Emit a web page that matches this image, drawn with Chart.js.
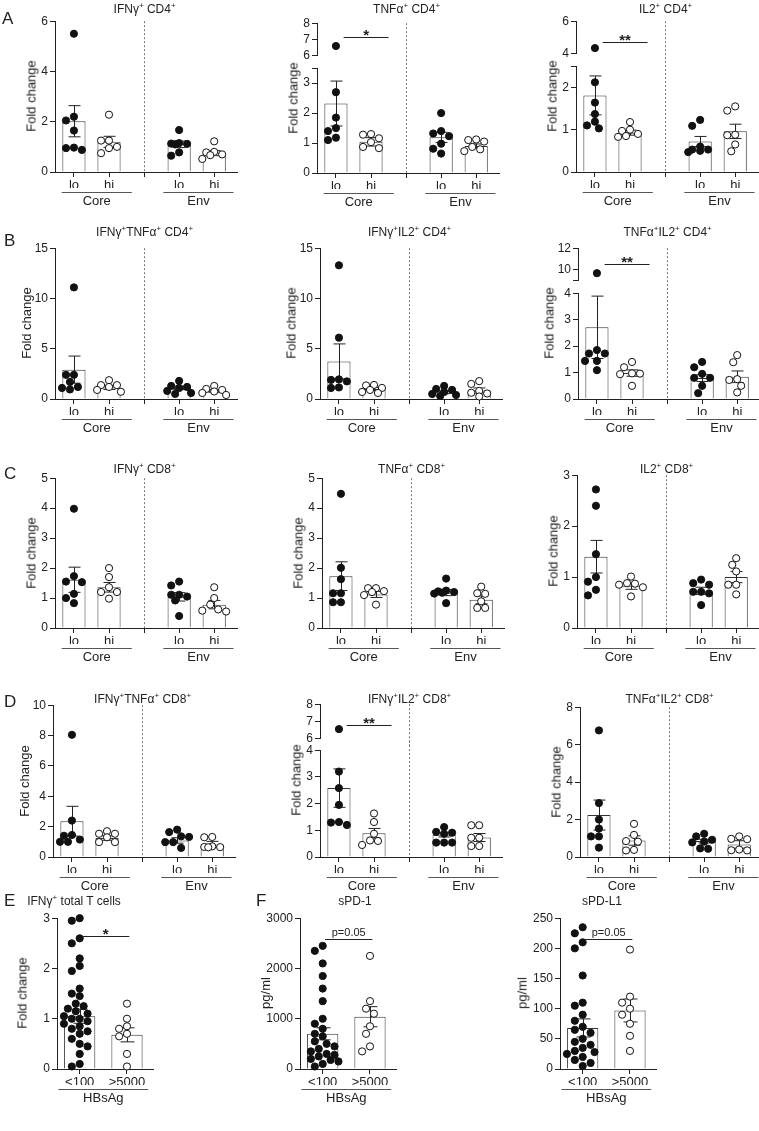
<!DOCTYPE html>
<html>
<head>
<meta charset="utf-8">
<title>Fold change panels</title>
<script src="https://cdn.jsdelivr.net/npm/chart.js@4.4.1/dist/chart.umd.min.js"></script>
<style>
  body { margin: 0; background: #fff; }
  #fig { position: relative; width: 759px; height: 1131px; overflow: hidden; font-family: "Liberation Sans", Arial, sans-serif; color: #222; }
  #fig canvas { position: absolute; }
  .txt { position: absolute; font-size: 12px; white-space: nowrap; transform: translate(-50%, -50%); line-height: 1; }
  .ylab { position: absolute; font-size: 13px; white-space: nowrap; transform: translate(-50%, -50%) rotate(-90deg); line-height: 1; }
  .letter { position: absolute; font-size: 17px; line-height: 1; }
  sup { font-size: 8px; vertical-align: 5px; line-height: 0; }
</style>
</head>
<body>
<div id="fig"></div>
<script>
// categories / tick labels
const cohort = ['lo', 'hi', '', 'lo', 'hi'];
const antigens = ['Core', 'Env'];
const hbsag = ['<100', '>5000'];

// each panel: points per group (Core lo, Core hi, Env lo, Env hi), bar means, SEM
const ifngCD4_pts = [[5.5, 2.2, 2.05, 1.65, 0.97, 0.95, 0.88], [2.28, 1.25, 1.25, 1.0, 0.95, 0.75], [1.67, 1.15, 1.13, 1.12, 1.1, 0.78, 0.65], [1.22, 0.8, 0.78, 0.7, 0.67, 0.52]];
const ifngCD4_mean = [2.02, 1.2, 1.1, 0.75];
const ifngCD4_sem = [0.62, 0.22, 0.13, 0.1];

const tnfCD4_pts = [[6.6, 2.7, 1.85, 1.5, 1.4, 1.18, 1.1], [1.3, 1.28, 1.16, 1.03, 0.87, 0.83], [2.0, 1.4, 1.32, 1.23, 0.98, 0.81, 0.65], [1.12, 1.1, 1.05, 0.87, 0.79, 0.73]];
const tnfCD4_mean = [2.32, 1.04, 1.19, 0.9];
const tnfCD4_sem = [0.75, 0.14, 0.17, 0.07];

const il2CD4_pts = [[4.35, 2.12, 1.64, 1.37, 1.19, 1.1, 1.03], [1.18, 1.0, 0.97, 0.9, 0.85, 0.83], [1.23, 1.09, 0.6, 0.53, 0.53, 0.5, 0.47], [1.55, 1.45, 0.88, 0.87, 0.65, 0.49]];
const il2CD4_mean = [1.81, 0.93, 0.72, 0.96];
const il2CD4_sem = [0.46, 0.06, 0.12, 0.17];

const ifngTnfCD4_pts = [[11.1, 2.4, 2.4, 1.7, 1.2, 1.1, 0.95], [1.87, 1.38, 1.38, 1.2, 0.9, 0.72], [1.8, 1.3, 1.2, 1.1, 0.8, 0.6, 0.5], [1.3, 1.0, 0.9, 0.75, 0.6, 0.4]];
const ifngTnfCD4_mean = [2.92, 1.15, 1.1, 0.8];
const ifngTnfCD4_sem = [1.35, 0.2, 0.17, 0.13];

const ifngIl2CD4_pts = [[13.3, 6.1, 1.95, 1.9, 1.75, 1.15, 1.1], [1.4, 1.35, 1.1, 0.9, 0.7, 0.6], [1.3, 1.0, 0.9, 0.7, 0.5, 0.4, 0.3], [1.78, 1.5, 0.8, 0.62, 0.55, 0.25]];
const ifngIl2CD4_mean = [3.74, 1.0, 0.65, 0.85];
const ifngIl2CD4_sem = [1.74, 0.15, 0.12, 0.25];

const tnfIl2CD4_pts = [[9.7, 1.85, 1.72, 1.72, 1.44, 1.44, 1.09], [1.4, 1.2, 0.97, 0.96, 0.94, 0.5], [1.4, 1.2, 0.95, 0.8, 0.8, 0.5, 0.22], [1.66, 1.39, 0.75, 0.72, 0.5, 0.25]];
const tnfIl2CD4_mean = [2.71, 0.98, 0.79, 0.84];
const tnfIl2CD4_sem = [1.18, 0.12, 0.13, 0.22];

const ifngCD8_pts = [[3.98, 1.73, 1.55, 1.53, 1.14, 1.0, 0.83], [2.0, 1.7, 1.36, 1.2, 1.2, 0.98], [1.55, 1.42, 1.11, 1.11, 1.05, 0.92, 0.4], [1.36, 1.0, 0.78, 0.62, 0.58, 0.55]];
const ifngCD8_mean = [1.61, 1.36, 1.04, 0.78];
const ifngCD8_sem = [0.42, 0.16, 0.14, 0.14];

const tnfCD8_pts = [[4.48, 2.01, 1.63, 1.16, 1.16, 0.86, 0.86], [1.33, 1.33, 1.23, 1.2, 1.1, 0.78], [1.65, 1.25, 1.22, 1.2, 1.18, 1.15, 0.83], [1.38, 1.16, 1.14, 0.89, 0.67, 0.67]];
const tnfCD8_mean = [1.73, 1.12, 1.18, 0.94];
const tnfCD8_sem = [0.48, 0.1, 0.1, 0.13];

const il2CD8_pts = [[2.72, 2.4, 1.45, 1.0, 0.91, 0.75, 0.64], [1.01, 0.88, 0.87, 0.85, 0.8, 0.62], [0.95, 0.88, 0.85, 0.71, 0.71, 0.68, 0.45], [1.37, 1.24, 1.11, 0.85, 0.85, 0.66]];
const il2CD8_mean = [1.4, 0.82, 0.73, 1.0];
const il2CD8_sem = [0.32, 0.06, 0.07, 0.11];

const ifngTnfCD8_pts = [[8.05, 2.4, 1.45, 1.4, 1.15, 1.0, 1.0], [1.7, 1.53, 1.53, 1.3, 0.98, 0.98], [1.8, 1.64, 1.36, 1.32, 0.98, 0.98, 0.6], [1.32, 1.3, 0.7, 0.66, 0.65, 0.64]];
const ifngTnfCD8_mean = [2.36, 1.25, 1.09, 0.83];
const ifngTnfCD8_sem = [0.98, 0.15, 0.18, 0.2];

const ifngIl2CD8_pts = [[6.56, 3.2, 2.58, 1.95, 1.31, 1.29, 1.2], [1.63, 1.31, 0.87, 0.62, 0.6, 0.45], [1.12, 0.94, 0.91, 0.87, 0.54, 0.54, 0.54], [1.19, 1.19, 0.72, 0.72, 0.41, 0.41]];
const ifngIl2CD8_mean = [2.58, 0.89, 0.83, 0.73];
const ifngIl2CD8_sem = [0.72, 0.18, 0.08, 0.15];

const tnfIl2CD8_pts = [[6.76, 2.88, 2.0, 1.52, 1.1, 1.1, 0.5], [1.77, 1.18, 0.85, 0.82, 0.38, 0.35], [1.24, 1.1, 0.92, 0.82, 0.78, 0.46, 0.44], [1.1, 0.97, 0.95, 0.4, 0.36, 0.35]];
const tnfIl2CD8_mean = [2.24, 0.88, 0.85, 0.67];
const tnfIl2CD8_sem = [0.8, 0.25, 0.1, 0.2];

// E / F: HBsAg <100 vs >5000
const totalT_pts = [[3.0, 2.95, 2.6, 2.5, 2.2, 2.05, 1.95, 1.6, 1.5, 1.45, 1.3, 1.25, 1.2, 1.15, 1.1, 1.05, 1.0, 1.0, 0.95, 0.9, 0.85, 0.8, 0.75, 0.7, 0.6, 0.5, 0.45, 0.3, 0.1, 0.05], [1.3, 1.0, 0.85, 0.8, 0.7, 0.65, 0.3, 0.05]];
const totalT_mean = [1.05, 0.68];
const totalT_sem = [0.14, 0.14];

const spd1_pts = [[2450, 2350, 2100, 1850, 1600, 1350, 1000, 900, 800, 700, 650, 550, 500, 450, 400, 350, 300, 280, 250, 200, 180, 150, 100, 50], [2250, 1350, 1200, 1100, 850, 700, 450, 350]];
const spd1_mean = [700, 1040];
const spd1_sem = [120, 200];

const spdl1_pts = [[235, 225, 210, 200, 155, 110, 105, 90, 80, 70, 65, 60, 50, 45, 40, 35, 30, 28, 25, 20, 15, 10, 5], [198, 120, 110, 100, 90, 75, 55, 30]];
const spdl1_mean = [68, 97];
const spdl1_sem = [15, 19];

Chart.defaults.font.family = '"Liberation Sans", Arial, sans-serif';
Chart.defaults.color = '#222';

const fig = document.getElementById('fig');
const X4 = [0, 1, 3, 4];
const X2 = [0, 1];
const groups4 = [{ from: -0.35, to: 1.65, label: antigens[0] }, { from: 2.55, to: 4.55, label: antigens[1] }];
const groupsHB = [{ from: -0.45, to: 1.45, label: 'HBsAg' }];

const addText = (html, x, y, cls) => {
  const d = document.createElement('div');
  d.className = cls || 'txt';
  d.innerHTML = html;
  d.style.left = x + 'px';
  d.style.top = y + 'px';
  fig.appendChild(d);
};

// spread dots that would overlap (simple beeswarm, in pixels)
const swarm = (vals, pxU, slot, spread) => {
  const cands = [0];
  for (let s = 4; s <= spread; s += 4) cands.push(-s, s);
  const placed = [];
  const out = vals.map(() => 0);
  vals.map((v, i) => i).sort((a, b) => vals[b] - vals[a]).forEach(i => {
    const py = vals[i] * pxU;
    let pick = null, bestD = -1, bestC = 0;
    for (const c of cands) {
      let dmin = Infinity;
      placed.forEach(p => { dmin = Math.min(dmin, Math.hypot(p[0] - c, p[1] - py)); });
      if (dmin >= 7.6) { pick = c; break; }
      if (dmin > bestD) { bestD = dmin; bestC = c; }
    }
    if (pick === null) pick = bestC;
    placed.push([pick, py]);
    out[i] = pick / slot;
  });
  return out;
};

const panelPlugin = {
  id: 'panel',
  afterDatasetDraw(chart, args, o) {
    if (args.index !== 0 || !o.sems) return;
    const ctx = chart.ctx, xs = chart.scales.x, ys = chart.scales.y;
    ctx.save();
    ctx.strokeStyle = '#222';
    ctx.lineWidth = 1;
    o.means.forEach((m, i) => {
      const x = Math.round(xs.getPixelForValue(o.xpos[i])) + 0.5;
      const y1 = ys.getPixelForValue(m + o.sems[i]);
      const y0 = ys.getPixelForValue(m - o.sems[i]);
      ctx.beginPath();
      ctx.moveTo(x, y0); ctx.lineTo(x, y1);
      ctx.moveTo(x - o.cap, y1); ctx.lineTo(x + o.cap, y1);
      ctx.moveTo(x - o.cap, y0); ctx.lineTo(x + o.cap, y0);
      ctx.stroke();
    });
    ctx.restore();
  },
  afterDraw(chart, args, o) {
    const ctx = chart.ctx, xs = chart.scales.x, ys = chart.scales.y, area = chart.chartArea;
    ctx.save();
    if (o.divider) {
      const x = Math.round(xs.getPixelForValue(2)) + 0.5;
      const yA = o.divider === 'low' ? 0 : area.top;
      const yB = o.divider === 'high' ? chart.height : area.bottom;
      ctx.strokeStyle = '#777';
      ctx.setLineDash([2, 2]);
      ctx.beginPath(); ctx.moveTo(x, yA); ctx.lineTo(x, yB); ctx.stroke();
      ctx.setLineDash([]);
    }
    if (o.groups) {
      ctx.strokeStyle = '#555';
      ctx.fillStyle = '#222';
      ctx.font = '13px "Liberation Sans", Arial, sans-serif';
      ctx.textAlign = 'center';
      ctx.textBaseline = 'middle';
      o.groups.forEach(g => {
        const x0 = xs.getPixelForValue(g.from), x1 = xs.getPixelForValue(g.to);
        const y = Math.round(area.bottom) + 20.5;
        ctx.beginPath(); ctx.moveTo(x0, y); ctx.lineTo(x1, y); ctx.stroke();
        ctx.fillText(g.label, (x0 + x1) / 2, y + 9);
      });
    }
    if (o.sig) {
      const s = o.sig;
      const x0 = xs.getPixelForValue(s.from), x1 = xs.getPixelForValue(s.to);
      const y = Math.round(ys.getPixelForValue(s.y)) + 0.5;
      ctx.strokeStyle = '#222';
      ctx.beginPath(); ctx.moveTo(x0, y); ctx.lineTo(x1, y); ctx.stroke();
      ctx.fillStyle = '#222';
      ctx.textAlign = 'center';
      ctx.textBaseline = 'alphabetic';
      if (s.text.startsWith('p')) {
        ctx.font = '11px "Liberation Sans", Arial, sans-serif';
        ctx.fillText(s.text, (x0 + x1) / 2, y - 4);
      } else {
        ctx.font = 'bold 15px "Liberation Sans", Arial, sans-serif';
        ctx.fillText(s.text, (x0 + x1) / 2, y + 2);
      }
    }
    ctx.restore();
  }
};

const buildChart = (s) => {
  const padTop = 8, xh = s.showX ? 16 : 0, padBottom = s.showX ? 40 : 8, padRight = 4;
  const plotH = s.zeroPx - s.topPx;
  const w = Math.round(s.yw + (s.xmax - s.xmin) * s.slot + padRight);
  const h = Math.round(padTop + plotH + xh + padBottom);
  const cv = document.createElement('canvas');
  cv.width = w; cv.height = h;
  cv.style.left = (s.axisX - s.yw) + 'px';
  cv.style.top = (s.topPx - padTop) + 'px';
  fig.appendChild(cv);

  const datasets = [];
  if (s.bars) {
    datasets.push({
      type: 'bar', data: s.bars, backgroundColor: '#fff', borderColor: '#333', borderWidth: 1,
      barPercentage: 0.66, categoryPercentage: 1, order: 2
    });
  }
  s.dots.forEach((d, i) => {
    datasets.push({
      type: 'scatter', data: d, order: 1, clip: false,
      pointRadius: 3.6, pointBorderWidth: 1, pointBorderColor: '#111',
      pointBackgroundColor: s.filled[i] ? '#111' : '#fff'
    });
  });

  new Chart(cv, {
    type: s.bars ? 'bar' : 'scatter',
    data: { datasets },
    plugins: [panelPlugin],
    options: {
      responsive: false, animation: false, maintainAspectRatio: false,
      layout: { padding: { top: padTop, bottom: padBottom, left: 0, right: padRight } },
      plugins: { legend: { display: false }, tooltip: { enabled: false }, panel: s.panel },
      scales: {
        x: {
          type: 'linear', display: s.showX, min: s.xmin, max: s.xmax, offset: false,
          afterBuildTicks: sc => { sc.ticks = s.xticks.map(v => ({ value: v })); },
          afterFit: sc => { sc.height = xh; },
          grid: { drawOnChartArea: false, offset: false, tickLength: 5, color: '#222' },
          border: { color: '#222' },
          ticks: { callback: (v, i) => s.xlabels[i], font: { size: 13 }, color: '#222', padding: 1, maxRotation: 0, autoSkip: false }
        },
        y: {
          min: s.ymin, max: s.ymax,
          afterBuildTicks: sc => { sc.ticks = s.yticks.map(v => ({ value: v })); },
          afterFit: sc => { sc.width = s.yw; },
          grid: { drawOnChartArea: false, tickLength: 5, color: '#222' },
          border: { color: '#222' },
          ticks: { callback: v => (s.ylabels.includes(v) ? String(v) : ''), font: { size: 12 }, color: '#222', padding: 2, autoSkip: false }
        }
      }
    }
  });
};

const panels = [
  // row A
  { title: 'IFNγ<sup>+</sup> CD4<sup>+</sup>', titleY: 9, axisX: 55, pts: ifngCD4_pts, mean: ifngCD4_mean, sem: ifngCD4_sem,
    topPx: 20, zeroPx: 172, ymax: 6, yticks: [0, 2, 4, 6] },
  { title: 'TNFα<sup>+</sup> CD4<sup>+</sup>', titleY: 9, axisX: 317, pts: tnfCD4_pts, mean: tnfCD4_mean, sem: tnfCD4_sem,
    topPx: 67, zeroPx: 173, ymax: 3.5, yticks: [0, 1, 2, 3, 3.5], ylabels: [0, 1, 2, 3],
    brk: { min: 6, max: 8, ticks: [6, 7, 8], topPx: 22, botPx: 57 }, sig: { y: 7.15, text: '*' } },
  { title: 'IL2<sup>+</sup> CD4<sup>+</sup>', titleY: 9, axisX: 576, pts: il2CD4_pts, mean: il2CD4_mean, sem: il2CD4_sem,
    topPx: 65, zeroPx: 172, ymax: 2.5, yticks: [0, 1, 2, 2.5], ylabels: [0, 1, 2],
    brk: { min: 4, max: 6, ticks: [4, 6], topPx: 20, botPx: 55 }, sig: { y: 4.75, text: '**' } },
  // row B
  { title: 'IFNγ<sup>+</sup>TNFα<sup>+</sup> CD4<sup>+</sup>', titleY: 232, axisX: 55, pts: ifngTnfCD4_pts, mean: ifngTnfCD4_mean, sem: ifngTnfCD4_sem,
    topPx: 247, zeroPx: 399, ymax: 15, yticks: [0, 5, 10, 15], ylabOff: 29 },
  { title: 'IFNγ<sup>+</sup>IL2<sup>+</sup> CD4<sup>+</sup>', titleY: 232, axisX: 320, pts: ifngIl2CD4_pts, mean: ifngIl2CD4_mean, sem: ifngIl2CD4_sem,
    topPx: 247, zeroPx: 399, ymax: 15, yticks: [0, 5, 10, 15], ylabOff: 29 },
  { title: 'TNFα<sup>+</sup>IL2<sup>+</sup> CD4<sup>+</sup>', titleY: 232, axisX: 578, pts: tnfIl2CD4_pts, mean: tnfIl2CD4_mean, sem: tnfIl2CD4_sem,
    topPx: 292, zeroPx: 399, ymax: 4, yticks: [0, 1, 2, 3, 4],
    brk: { min: 9, max: 12, ticks: [9, 10, 12], labels: [10, 12], topPx: 247, botPx: 282 }, sig: { y: 10.5, text: '**' }, ylabOff: 29 },
  // row C
  { title: 'IFNγ<sup>+</sup> CD8<sup>+</sup>', titleY: 469, axisX: 55, pts: ifngCD8_pts, mean: ifngCD8_mean, sem: ifngCD8_sem,
    topPx: 477, zeroPx: 628, ymax: 5, yticks: [0, 1, 2, 3, 4, 5] },
  { title: 'TNFα<sup>+</sup> CD8<sup>+</sup>', titleY: 469, axisX: 322, pts: tnfCD8_pts, mean: tnfCD8_mean, sem: tnfCD8_sem,
    topPx: 477, zeroPx: 628, ymax: 5, yticks: [0, 1, 2, 3, 4, 5] },
  { title: 'IL2<sup>+</sup> CD8<sup>+</sup>', titleY: 469, axisX: 577, pts: il2CD8_pts, mean: il2CD8_mean, sem: il2CD8_sem,
    topPx: 474, zeroPx: 628, ymax: 3, yticks: [0, 1, 2, 3] },
  // row D
  { title: 'IFNγ<sup>+</sup>TNFα<sup>+</sup> CD8<sup>+</sup>', titleY: 699, axisX: 53, pts: ifngTnfCD8_pts, mean: ifngTnfCD8_mean, sem: ifngTnfCD8_sem,
    topPx: 704, zeroPx: 857, ymax: 10, yticks: [0, 2, 4, 6, 8, 10], ylabOff: 29 },
  { title: 'IFNγ<sup>+</sup>IL2<sup>+</sup> CD8<sup>+</sup>', titleY: 699, axisX: 320, pts: ifngIl2CD8_pts, mean: ifngIl2CD8_mean, sem: ifngIl2CD8_sem,
    topPx: 749, zeroPx: 857, ymax: 4, yticks: [0, 1, 2, 3, 4],
    brk: { min: 6, max: 8, ticks: [6, 7, 8], topPx: 703, botPx: 740 }, sig: { y: 6.8, text: '**' } },
  { title: 'TNFα<sup>+</sup>IL2<sup>+</sup> CD8<sup>+</sup>', titleY: 699, axisX: 580, pts: tnfIl2CD8_pts, mean: tnfIl2CD8_mean, sem: tnfIl2CD8_sem,
    topPx: 706, zeroPx: 857, ymax: 8, yticks: [0, 2, 4, 6, 8] }
];

const hbPanels = [
  { title: 'IFNγ<sup>+</sup> total T cells', titleX: 74, axisX: 57, yw: 30, pts: totalT_pts, mean: totalT_mean, sem: totalT_sem,
    ymax: 3, yticks: [0, 1, 2, 3], ylab: 'Fold change', ylabX: 22, sig: { from: 0.05, to: 1.05, y: 2.65, text: '*' } },
  { title: 'sPD-1', titleX: 355, axisX: 300, yw: 38, pts: spd1_pts, mean: spd1_mean, sem: spd1_sem,
    ymax: 3000, yticks: [0, 1000, 2000, 3000], ylab: 'pg/ml', ylabX: 265, sig: { from: 0.05, to: 1.05, y: 2580, text: 'p=0.05' } },
  { title: 'sPD-L1', titleX: 602, axisX: 560, yw: 32, pts: spdl1_pts, mean: spdl1_mean, sem: spdl1_sem,
    ymax: 250, yticks: [0, 50, 100, 150, 200, 250], ylab: 'pg/ml', ylabX: 522, sig: { from: 0.05, to: 1.05, y: 216, text: 'p=0.05' } }
];

const SLOT = 35.3;
panels.forEach(p => {
  const xmin = -0.54, xmax = 4.65;
  const pxU = (p.zeroPx - p.topPx) / p.ymax;
  const jit = p.pts.map(g => swarm(g, pxU, SLOT, 12));
  const dotsWhere = keep => p.pts.map((g, gi) => g.map((v, k) => ({ x: X4[gi] + jit[gi][k], y: v })).filter(d => keep(d.y)));
  const filled = [true, false, true, false];
  const sig = p.sig ? { from: 0.22, to: 1.5, y: p.sig.y, text: p.sig.text } : null;

  buildChart({
    axisX: p.axisX, yw: 30, slot: SLOT, xmin, xmax, topPx: p.topPx, zeroPx: p.zeroPx,
    ymin: 0, ymax: p.ymax, yticks: p.yticks, ylabels: p.ylabels || p.yticks,
    showX: true, xticks: [0, 1, 2, 3, 4], xlabels: cohort,
    bars: p.mean.map((m, i) => ({ x: X4[i], y: m })),
    dots: dotsWhere(v => v <= p.ymax), filled,
    panel: { means: p.mean, sems: p.sem, xpos: X4, cap: 6, divider: p.brk ? 'low' : 'full', groups: groups4, sig: p.brk ? null : sig }
  });

  if (p.brk) {
    const b = p.brk;
    buildChart({
      axisX: p.axisX, yw: 30, slot: SLOT, xmin, xmax, topPx: b.topPx, zeroPx: b.botPx,
      ymin: b.min, ymax: b.max, yticks: b.ticks, ylabels: b.labels || b.ticks,
      showX: false, xticks: [0, 1, 2, 3, 4], xlabels: cohort,
      bars: null, dots: dotsWhere(v => v > p.ymax), filled,
      panel: { divider: 'high', sig }
    });
  }

  const top = p.brk ? p.brk.topPx : p.topPx;
  addText(p.title, p.axisX + 19 + 2 * SLOT, p.titleY);
  addText('Fold change', p.axisX - (p.ylabOff || 24), (top + p.zeroPx) / 2, 'ylab');
});

const HB_TITLE_Y = 901, HB_TOP = 917, HB_ZERO = 1069;
hbPanels.forEach(p => {
  const slot = 48, xmin = -0.48, xmax = 1.55;
  const pxU = (HB_ZERO - HB_TOP) / p.ymax;
  const jit = p.pts.map(g => swarm(g, pxU, slot, 16));
  buildChart({
    axisX: p.axisX, yw: p.yw, slot, xmin, xmax, topPx: HB_TOP, zeroPx: HB_ZERO,
    ymin: 0, ymax: p.ymax, yticks: p.yticks, ylabels: p.yticks,
    showX: true, xticks: [0, 1], xlabels: hbsag,
    bars: p.mean.map((m, i) => ({ x: X2[i], y: m })),
    dots: p.pts.map((g, gi) => g.map((v, k) => ({ x: X2[gi] + jit[gi][k], y: v }))), filled: [true, false],
    panel: { means: p.mean, sems: p.sem, xpos: X2, cap: 7, divider: null, groups: groupsHB, sig: p.sig }
  });
  addText(p.title, p.titleX, HB_TITLE_Y);
  addText(p.ylab, p.ylabX, (HB_TOP + HB_ZERO) / 2, 'ylab');
});

// panel letters
[['A', 2, 10], ['B', 4, 232], ['C', 4, 465], ['D', 4, 693], ['E', 4, 892], ['F', 256, 892]].forEach(l => {
  const d = document.createElement('div');
  d.className = 'letter';
  d.textContent = l[0];
  d.style.left = l[1] + 'px';
  d.style.top = l[2] + 'px';
  fig.appendChild(d);
});
</script>
</body>
</html>
